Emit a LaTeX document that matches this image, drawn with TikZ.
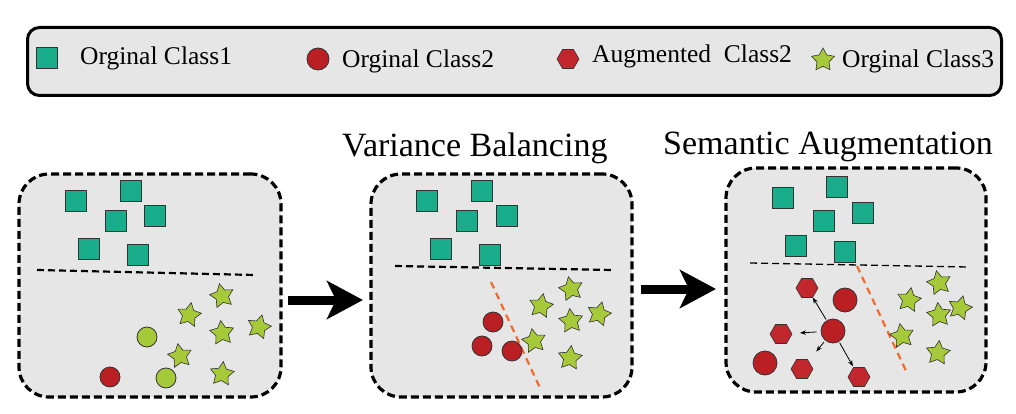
\documentclass[tikz,border=0pt]{standalone}
\usepackage{fontspec}
\setmainfont{Liberation Serif}
\usetikzlibrary{shapes, positioning, arrows.meta}

\definecolor{sqteal}{HTML}{19AD8C}
\definecolor{dotred}{HTML}{BA1F24}
\definecolor{hexred}{HTML}{C1272D}
\definecolor{limegreen}{HTML}{A6C93A}
\definecolor{panelgray}{HTML}{E6E6E6}
\definecolor{seporange}{HTML}{F26A2C}

\newcommand\legendfont{\fontsize{25.5}{30}\selectfont}
\newcommand\titlefont{\fontsize{34}{40}\selectfont}

\tikzset{
    sq/.style={draw=black!80, line width=0.8pt, fill=sqteal, minimum size=21pt, inner sep=0pt},
    dot/.style={draw=black!80, line width=0.8pt, circle, fill=dotred, minimum size=20pt, inner sep=0pt},
    gdot/.style={dot, fill=limegreen},
    bigdot/.style={dot, minimum size=24pt},
    hexa/.style={draw=black!80, line width=0.6pt, regular polygon, regular polygon sides=6, fill=hexred, minimum size=22pt, inner sep=0pt},
    starnode/.style={draw=black!80, line width=0.6pt, star, star points=5, star point ratio=1.9, fill=limegreen, minimum size=25pt, inner sep=0pt},
    panel/.style={draw, dash pattern=on 8pt off 4pt, line width=3.2pt, fill=panelgray, rounded corners=30pt, minimum width=262pt, minimum height=223pt},
    divider/.style={dash pattern=on 7pt off 4pt, line width=2.2pt},
    sepline/.style={draw=seporange, dash pattern=on 7pt off 5pt, line width=2.2pt},
    bigarrow/.style={line width=9pt, -{Stealth[length=36pt, width=38pt, inset=9pt]}},
    augarrow/.style={line width=0.8pt, -{Stealth[length=6pt, width=4.5pt]}},
    label/.style={anchor=base west, inner sep=0pt, font=\legendfont}
}

\begin{document}
\begin{tikzpicture}[x=1pt, y=-1pt]
    \useasboundingbox (0,0) rectangle (1016,414);

    % Legend
    \node[draw, line width=3pt, fill=panelgray, rounded corners=12pt, minimum width=974pt, minimum height=68pt] (legend) at (514.5,61.5) {};
    \node[sq] (legsq) at (47,58) {};
    \node[label] (legsqtxt) at (80,65) {Orginal Class1};
    \node[dot, minimum size=22pt] (legdot) at (318,59) {};
    \node[label] (legdottxt) at (342,68) {Orginal Class2};
    \node[hexa] (leghex) at (568,59) {};
    \node[label] (leghextxt) at (592,63) {Augmented\ \ Class2};
    \node[starnode, minimum size=24pt] (legstar) at (823,60) {};
    \node[label] (legstartxt) at (842,68) {Orginal Class3};

    % Titles
    \node[anchor=base west, inner sep=0pt, font=\titlefont] (title2) at (342,157) {Variance Balancing};
    \node[anchor=base west, inner sep=0pt, font=\titlefont] (title3) at (663,155) {Semantic Augmentation};

    % Panels
    \node[panel] (box1) at (150,285.5) {};
    \node[panel, minimum width=261pt] (box2) at (501.5,285.5) {};
    \node[panel, minimum width=260pt, minimum height=224pt] (box3) at (856,280) {};

    % Panel 1: original data
    \draw[divider] (37,270) -- (255,275);
    \node[sq] (s11) at (76,201) {};
    \node[sq] (s12) at (131,191) {};
    \node[sq] (s13) at (116,221) {};
    \node[sq] (s14) at (155,216) {};
    \node[sq] (s15) at (89,249) {};
    \node[sq] (s16) at (138,255) {};
    \node[gdot] (g11) at (147,337) {};
    \node[gdot] (g12) at (166,378) {};
    \node[dot] (d11) at (110,377) {};
    \node[starnode, rotate=12] (st11) at (222,296) {};
    \node[starnode, rotate=-10] (st12) at (189,315) {};
    \node[starnode, rotate=6] (st13) at (222,333) {};
    \node[starnode, rotate=-14] (st14) at (259,327) {};
    \node[starnode, rotate=10] (st15) at (180,356) {};
    \node[starnode, rotate=-6] (st16) at (222,374) {};

    % Panel 2: variance balancing
    \draw[divider] (395,266) -- (613,270);
    \node[sq] (s21) at (427,201) {};
    \node[sq] (s22) at (482,191) {};
    \node[sq] (s23) at (467,221) {};
    \node[sq] (s24) at (507,216) {};
    \node[sq] (s25) at (441,249) {};
    \node[sq] (s26) at (490,255) {};
    \draw[sepline] (491,282) -- (540,388);
    \node[dot] (d21) at (493,322) {};
    \node[dot] (d22) at (482,346) {};
    \node[dot] (d23) at (512,351) {};
    \node[starnode, rotate=12] (st21) at (571,289) {};
    \node[starnode, rotate=-10] (st22) at (541,306) {};
    \node[starnode, rotate=6] (st23) at (571,321) {};
    \node[starnode, rotate=-14] (st24) at (599,314) {};
    \node[starnode, rotate=10] (st25) at (534,341) {};
    \node[starnode, rotate=-6] (st26) at (570,358) {};

    % Panel 3: semantic augmentation
    \draw[divider, line width=1.3pt, dash pattern=on 7pt off 4pt] (750,263) -- (968,267);
    \node[sq] (s31) at (783,198) {};
    \node[sq] (s32) at (837,187) {};
    \node[sq] (s33) at (824,221) {};
    \node[sq] (s34) at (863,213) {};
    \node[sq] (s35) at (796,246) {};
    \node[sq] (s36) at (845,252) {};
    \draw[sepline] (857,266) -- (907,373);
    \node[bigdot] (d31) at (845,300) {};
    \node[bigdot] (d32) at (833,331) {};
    \node[bigdot] (d33) at (765,363) {};
    \node[hexa] (h31) at (807,288) {};
    \node[hexa] (h32) at (781,334) {};
    \node[hexa] (h33) at (802,369) {};
    \node[hexa] (h34) at (859,377) {};
    \node[starnode, rotate=12] (st31) at (939,283) {};
    \node[starnode, rotate=-10] (st32) at (909,300) {};
    \node[starnode, rotate=6] (st33) at (939,315) {};
    \node[starnode, rotate=-14] (st34) at (960,308) {};
    \node[starnode, rotate=10] (st35) at (902,336) {};
    \node[starnode, rotate=-6] (st36) at (938,353) {};

    % Augmentation arrows
    \draw[augarrow, shorten <=1pt] (d32) -- (h31);
    \draw[augarrow, shorten <=4pt, shorten >=8pt] (d32) -- (h32);
    \draw[augarrow, shorten <=2pt, shorten >=12pt] (d32) -- (h33);
    \draw[augarrow, shorten <=1pt, shorten >=1pt] (d32) -- (h34);

    % Big arrows
    \coordinate (a1s) at (288,300);
    \coordinate (a1e) at (363,300);
    \coordinate (a2s) at (641,289);
    \coordinate (a2e) at (716,289);
    \draw[bigarrow] (a1s) -- (a1e);
    \draw[bigarrow] (a2s) -- (a2e);

\end{tikzpicture}
\end{document}
